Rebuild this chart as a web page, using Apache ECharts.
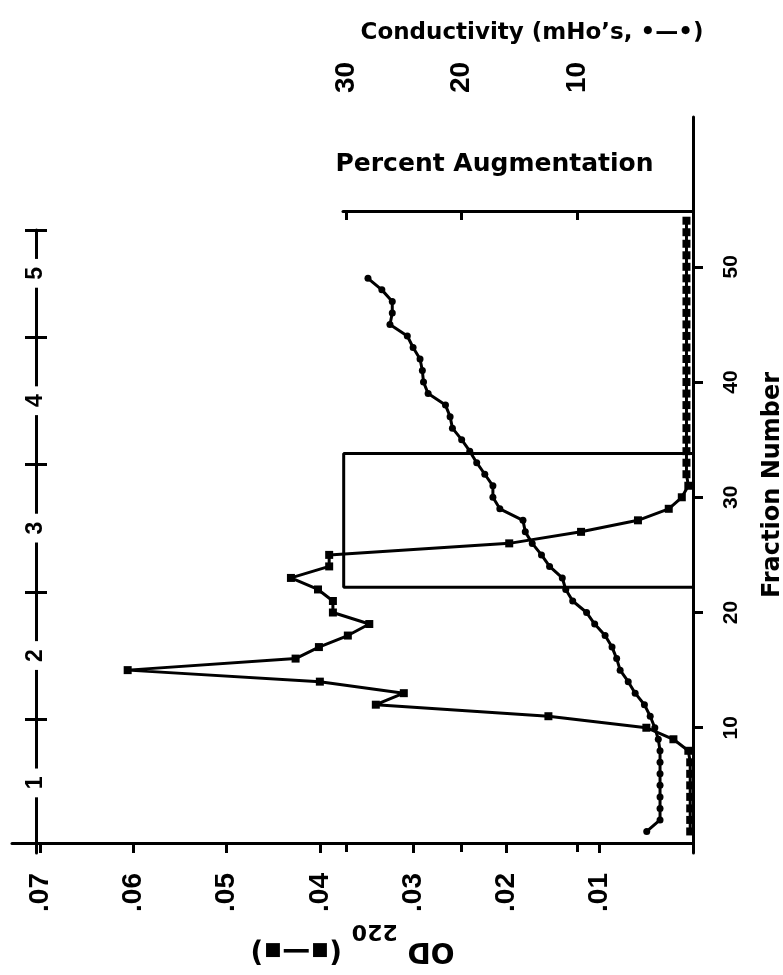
<!DOCTYPE html>
<html><head><meta charset="utf-8">
<script src="https://cdn.jsdelivr.net/npm/echarts@6/dist/echarts.min.js"></script>
<style>html,body{margin:0;padding:0;background:#fff}#c{width:783px;height:975px}</style>
</head><body><div id="c"></div>
<script>
// ---- data ----
const odFractions = [1,2,3,4,5,6,7,8,9,10,11,12,13,14,15,16,17,18,19,20,21,22,23,24,25,26,27,28,29,30,31,32,33,34,35,36,37,38,39,40,41,42,43,44,45,46,47,48,49,50,51,52,53,54];
const odValues = [0.0003,0.0003,0.0003,0.0003,0.0003,0.0003,0.0003,0.0005,0.0021,0.005,0.0155,0.034,0.031,0.040,0.0606,0.0426,0.0401,0.037,0.0347,0.0386,0.0386,0.0402,0.0431,0.039,0.039,0.0197,0.012,0.0059,0.0026,0.0012,0.0005,0.0007,0.0007,0.0007,0.0007,0.0007,0.0007,0.0007,0.0007,0.0007,0.0007,0.0007,0.0007,0.0007,0.0007,0.0007,0.0007,0.0007,0.0007,0.0007,0.0007,0.0007,0.0007,0.0007];
const condFractions = [1,2,3,4,5,6,7,8,9,10,11,12,13,14,15,16,17,18,19,20,21,22,23,24,25,26,27,28,29,30,31,32,33,34,35,36,37,38,39,40,41,42,43,44,45,46,47,48,49];
const condValues = [4.0,2.85,2.85,2.85,2.85,2.85,2.85,2.85,3.0,3.3,3.7,4.2,5.0,5.6,6.3,6.6,7.0,7.6,8.5,9.2,10.4,11.0,11.3,12.4,13.1,13.9,14.5,14.7,16.7,17.3,17.3,18.0,18.7,19.3,20.0,20.8,21.0,21.4,22.9,23.3,23.4,23.6,24.2,24.7,26.2,26.0,26.0,26.9,28.1];
const augFractionRange = [22.2, 33.8];
const augLevel = 30.2;
const odTicks = [0.01,0.02,0.03,0.04,0.05,0.06,0.07];
const condTicks = [10,20,30];
const fractionTicks = [10,20,30,40,50];
const topScaleLabels = [1,2,3,4,5];
const topScaleTicks = [1.5,2.5,3.5,4.5,5.34];

// ---- layout ----
const FRAC_MIN = -0.87, FRAC_MAX = 63.0;      // full plot incl. header strip
const FRAC_MAX_B = 54.845;                    // same scale, plot below header strip
const OD_MAX = 0.073;
const COND_MAX = 30.26;
const TOP_MIN = 0.45, TOP_MAX = 5.34;
const BLACK = '#000';
const labelFont = {color: BLACK, fontFamily: 'Liberation Sans', fontWeight: 'bold'};
const nameFont = {color: BLACK, fontFamily: 'DejaVu Sans', fontWeight: 'bold'};
const axLine = {show: true, lineStyle: {color: BLACK, width: 3}};

const chart = echarts.init(document.getElementById('c'), null, {renderer: 'canvas'});
chart.setOption({
  backgroundColor: '#fff',
  animation: false,
  grid: [
    {left: 12, right: 90, top: 117, bottom: 122, outerBoundsMode: 'none', containLabel: false},
    {left: 343, right: 90, top: 211, bottom: 122, outerBoundsMode: 'none', containLabel: false},
    {left: 36, width: 20, top: 230, bottom: 122, outerBoundsMode: 'none', containLabel: false}
  ],
  xAxis: [
    {
      gridIndex: 0, type: 'value', inverse: true, min: 0, max: OD_MAX, position: 'bottom',
      axisLine: axLine, splitLine: {show: false},
      axisTick: {customValues: odTicks, length: 10, lineStyle: {color: BLACK, width: 3}},
      axisLabel: Object.assign({customValues: odTicks, rotate: 90, fontSize: 28, margin: 20,
        formatter: v => v.toFixed(2).replace(/^0/, '')}, labelFont),
      name: '{a|OD }{s|220}{a| (▪—▪)}', nameLocation: 'middle', nameGap: 65, nameRotate: 180,
      nameTextStyle: {rich: {
        a: Object.assign({fontSize: 28, lineHeight: 44, verticalAlign: 'top'}, nameFont),
        s: Object.assign({fontSize: 22, lineHeight: 44, verticalAlign: 'bottom'}, nameFont)
      }}
    },
    {
      gridIndex: 1, type: 'value', inverse: true, min: 0, max: COND_MAX, position: 'top', offset: 94,
      axisLine: axLine, splitLine: {show: false},
      axisTick: {customValues: condTicks, inside: true, length: 9, lineStyle: {color: BLACK, width: 3}},
      axisLabel: Object.assign({customValues: condTicks, rotate: 90, fontSize: 28, margin: 24}, labelFont),
      name: 'Conductivity (mHo’s, •—•)', nameLocation: 'middle', nameGap: 72,
      nameTextStyle: Object.assign({fontSize: 23, padding: [0, 0, 0, 28]}, nameFont)
    },
    {
      gridIndex: 1, type: 'value', inverse: true, min: 0, max: COND_MAX, position: 'top',
      axisLine: axLine, splitLine: {show: false},
      axisTick: {customValues: condTicks, inside: true, length: 9, lineStyle: {color: BLACK, width: 3}},
      axisLabel: {show: false},
      name: 'Percent Augmentation', nameLocation: 'middle', nameGap: 34,
      nameTextStyle: Object.assign({fontSize: 25, padding: [0, 47, 0, 0]}, nameFont)
    },
    {gridIndex: 2, type: 'value', show: false, min: 0, max: 1}
  ],
  yAxis: [
    {
      gridIndex: 0, type: 'value', min: FRAC_MIN, max: FRAC_MAX, position: 'right',
      axisLine: axLine, splitLine: {show: false},
      axisTick: {customValues: fractionTicks, length: 10, lineStyle: {color: BLACK, width: 3}},
      axisLabel: Object.assign({customValues: fractionTicks, rotate: 90, fontSize: 21, margin: 28}, labelFont),
      name: 'Fraction Number', nameLocation: 'middle', nameGap: 68, nameRotate: 90,
      nameTextStyle: Object.assign({fontSize: 24}, nameFont)
    },
    {gridIndex: 1, type: 'value', show: false, min: FRAC_MIN, max: FRAC_MAX_B},
    {
      gridIndex: 2, type: 'value', min: TOP_MIN, max: TOP_MAX, position: 'left',
      axisLine: axLine, splitLine: {show: false},
      axisTick: {customValues: topScaleTicks, length: 11, lineStyle: {color: BLACK, width: 3}},
      axisLabel: Object.assign({customValues: topScaleLabels, rotate: 90, fontSize: 23, margin: 0,
        align: 'center', verticalAlign: 'middle', backgroundColor: '#fff', padding: [0, 8]}, labelFont)
    },
    {
      gridIndex: 2, type: 'value', min: TOP_MIN, max: TOP_MAX, position: 'left',
      axisLine: {show: false}, splitLine: {show: false}, axisLabel: {show: false},
      axisTick: {customValues: topScaleTicks, inside: true, length: 11, lineStyle: {color: BLACK, width: 3}}
    }
  ],
  series: [
    {
      name: 'OD 220', type: 'line', xAxisIndex: 0, yAxisIndex: 0,
      data: odFractions.map((f, i) => [odValues[i], f]),
      symbol: 'rect', symbolSize: 8, lineStyle: {color: BLACK, width: 3}, itemStyle: {color: BLACK}, z: 5
    },
    {
      name: 'Conductivity', type: 'line', xAxisIndex: 1, yAxisIndex: 1,
      data: condFractions.map((f, i) => [condValues[i], f]),
      symbol: 'circle', symbolSize: 7, lineStyle: {color: BLACK, width: 3}, itemStyle: {color: BLACK}, z: 5
    },
    {
      name: 'Percent Augmentation', type: 'line', xAxisIndex: 2, yAxisIndex: 1, clip: false,
      data: [[0, augFractionRange[0]], [augLevel, augFractionRange[0]], [augLevel, augFractionRange[1]], [0, augFractionRange[1]]],
      symbol: 'none', lineStyle: {color: BLACK, width: 3}, z: 4
    }
  ]
});
</script></body></html>
